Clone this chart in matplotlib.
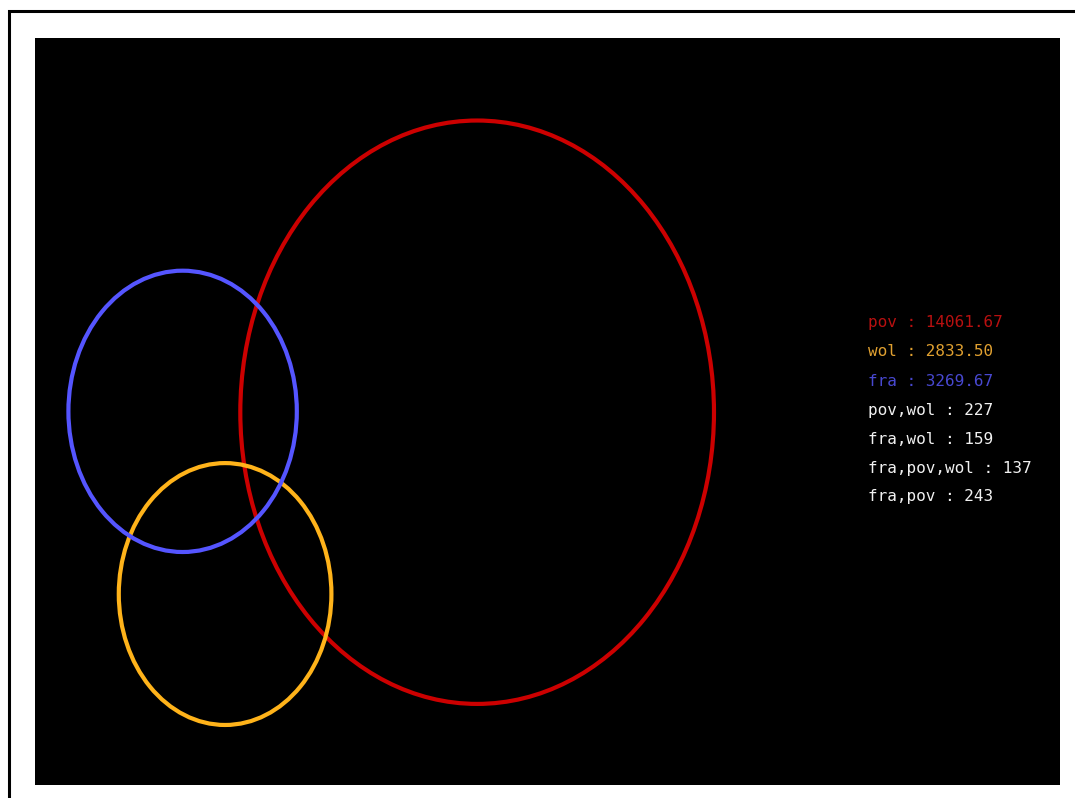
import numpy as np
import matplotlib
matplotlib.use("Agg")
import matplotlib.pyplot as plt
from matplotlib.patches import Ellipse, Rectangle

# ---- data ----
sets = ["pov", "wol", "fra"]
set_sizes = [14061.67, 2833.50, 3269.67]
set_colors = ["#cc0000", "#ffb31a", "#5555ff"]
text_colors = ["#b81010", "#e0a030", "#4848d0"]
overlap_labels = ["pov,wol", "fra,wol", "fra,pov,wol", "fra,pov"]
overlap_values = [227, 159, 137, 243]

# ---- layout (circle centres in data units, from a Venn layout) ----
centers = {"pov": (124.9, 85.5), "wol": (53.7, 43.8), "fra": (41.7, 85.7)}
sx, sy = 3.54, 4.36  # pixel scale per data unit (x, y)

W, H = 1075, 798
fig = plt.figure(figsize=(W / 100, H / 100), dpi=100)
fig.patch.set_facecolor("white")
fig.patches.append(Rectangle((9 / W, -0.1), 1.2, (H - 11) / H + 0.1,
                             transform=fig.transFigure, fill=False,
                             edgecolor="black", linewidth=2.2))

ax = fig.add_axes([35 / W, 13 / H, 1025 / W, 747 / H])
ax.set_facecolor("black")
ax.set_xlim(0, 1025 / sx)
ax.set_ylim(0, 747 / sy)
for s in ax.spines.values():
    s.set_visible(False)
ax.set_xticks([])
ax.set_yticks([])

for name, size, col in zip(sets, set_sizes, set_colors):
    r = np.sqrt(size / np.pi)
    cx, cy = centers[name]
    ax.add_patch(Ellipse((cx, cy), 2 * r, 2 * r, fill=False,
                         edgecolor=col, linewidth=3.0))

lines = [(f"{n} : {v:.2f}", c) for n, v, c in zip(sets, set_sizes, text_colors)]
lines += [(f"{n} : {v}", "#f0f0f0") for n, v in zip(overlap_labels, overlap_values)]

x0 = (868 - 35) / 1025
for i, (txt, col) in enumerate(lines):
    ypix = 323 + 29 * i
    ax.text(x0, (785 - ypix) / 747, txt, transform=ax.transAxes,
            color=col, fontsize=11.5, family="DejaVu Sans Mono",
            ha="left", va="center")

fig.savefig("out.png", dpi=100, facecolor=fig.get_facecolor())
